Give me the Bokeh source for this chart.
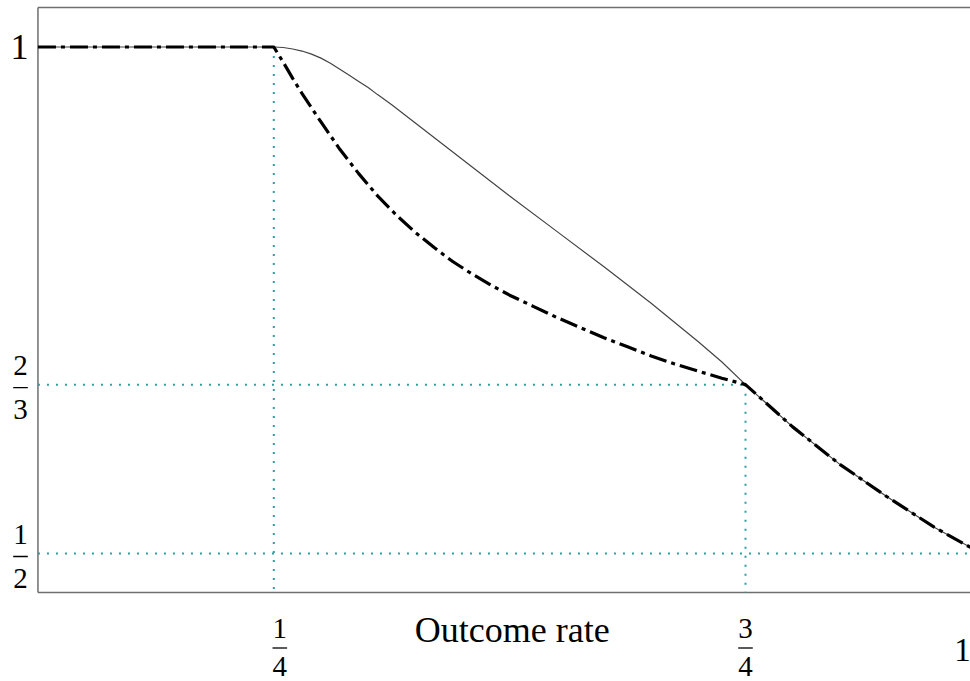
from bokeh.plotting import figure
from bokeh.models import Range1d
from bokeh.core.properties import value
from bokeh.embed import file_html
from bokeh.resources import INLINE

# ---------------- data ----------------
# solid curve (thin)
solid_x = [0.0, 0.25, 0.26, 0.27, 0.28, 0.29, 0.30, 0.31, 0.32, 0.33, 0.34, 0.35, 0.36,
           0.375, 0.40, 0.45, 0.50, 0.55, 0.60, 0.625, 0.65, 0.675, 0.70, 0.725, 0.75,
           0.80, 0.85, 0.90, 0.95, 1.0]
solid_y = [1.0, 1.0, 0.9995, 0.998, 0.996, 0.993, 0.989, 0.984, 0.978, 0.972, 0.966, 0.960, 0.953,
           0.943, 0.925, 0.889, 0.853, 0.818, 0.783, 0.765, 0.747, 0.728, 0.709, 0.689, 0.6667,
           0.625, 0.588, 0.556, 0.526, 0.5]
# dash-dot curve (thick)
dash_x = [0.0, 0.25, 0.26, 0.27, 0.28, 0.29, 0.30, 0.32, 0.34, 0.36, 0.38, 0.40, 0.42, 0.44,
          0.46, 0.48, 0.50, 0.525, 0.55, 0.575, 0.60, 0.625, 0.65, 0.675, 0.70, 0.725, 0.75,
          0.80, 0.85, 0.90, 0.95, 1.0]
dash_y = [1.0, 1.0, 0.985, 0.969, 0.954, 0.940, 0.926, 0.899, 0.875, 0.853, 0.834, 0.817, 0.802, 0.788,
          0.776, 0.765, 0.755, 0.744, 0.733, 0.723, 0.713, 0.704, 0.695, 0.687, 0.680, 0.673, 0.6667,
          0.625, 0.588, 0.556, 0.526, 0.5]
# reference (dotted) levels
ref_x = [0.25, 0.75]
ref_y = [2 / 3, 1 / 2]
# tick labels as fractions (numerator, denominator)
x_ticks = [0.25, 0.75]
x_num = ["1", "3"]
x_den = ["4", "4"]
y_ticks = [2 / 3, 1 / 2]
y_num = ["2", "1"]
y_den = ["3", "2"]
x_label = "Outcome rate"

# ---------------- layout (pixel geometry of the box) ----------------
W, H = 970, 681
BOX_TOP, BOX_BOTTOM = 7, 592
X0PX, XSC = 37.45, 943.4          # pixel of x=0 (box left), pixels per unit
Y1PX, YSC = 46.5, 1013.0          # pixel of y=1, pixels per unit


def x_of(px):
    return (px - X0PX) / XSC


def y_of(py):
    return 1 - (py - Y1PX) / YSC


p = figure(width=W, height=H, output_backend="svg", toolbar_location=None,
           x_range=Range1d(x_of(0), x_of(W)), y_range=Range1d(y_of(H), y_of(0)),
           min_border=0, x_axis_location=None, y_axis_location=None)
p.background_fill_color = "white"
p.border_fill_color = "white"
p.outline_line_color = None
p.grid.visible = False

x_left, x_right = 0.0, x_of(W + 10)
y_top, y_bot = y_of(BOX_TOP), y_of(BOX_BOTTOM)

# box (left, top, bottom)
box_col = "#6e6e6e"
p.line([x_left, x_left], [y_bot, y_top], line_color=box_col, line_width=1.5)
p.line([x_left, x_right], [y_top, y_top], line_color=box_col, line_width=1.5)
p.line([x_left, x_right], [y_bot, y_bot], line_color=box_col, line_width=1.5)

teal = "#339c9c"
# dotted reference lines
p.line([ref_x[0], ref_x[0]], [1.0, y_bot], line_color=teal, line_width=2, line_dash="2 7")
p.line([ref_x[1], ref_x[1]], [ref_y[0], y_bot], line_color=teal, line_width=2, line_dash="2 7")
p.line([x_left, ref_x[1]], [ref_y[0], ref_y[0]], line_color=teal, line_width=2, line_dash="2 7")
p.line([x_left, 1.0], [ref_y[1], ref_y[1]], line_color=teal, line_width=2, line_dash="2 7")

# curves
p.line(solid_x, solid_y, line_color="#444444", line_width=1.2, line_join="round")
p.line(dash_x, dash_y, line_color="black", line_width=3.2, line_dash="18 5 4 5",
       line_join="round")

FONT = "Liberation Serif"


def lab(pxs, pys, texts, size):
    p.text(x=[x_of(a) for a in pxs], y=[y_of(b) for b in pys], text=texts,
           text_font=value(FONT), text_font_size=f"{size}px", text_color="black",
           text_align="center", text_baseline="middle")


def bars(cxs, pys, half=7.3):
    p.segment(x0=[x_of(c - half) for c in cxs], y0=[y_of(b) for b in pys],
              x1=[x_of(c + half) for c in cxs], y1=[y_of(b) for b in pys],
              line_color="black", line_width=1.3)


# x tick fractions
xc = [X0PX + XSC * t + (6 if t < 0.5 else 0) for t in x_ticks]
lab(xc, [627.5] * len(xc), x_num, 29)
bars(xc, [647.5] * len(xc))
lab(xc, [665.5] * len(xc), x_den, 29)

# y tick fractions
yc = [Y1PX + YSC * (1 - t) + 3 for t in y_ticks]
lab([20] * len(yc), [c - 22 for c in yc], y_num, 29)
bars([20] * len(yc), yc)
lab([20] * len(yc), [c + 22 for c in yc], y_den, 29)

# y = 1 label (left) and x = 1 label (bottom right, at the edge)
lab([19], [Y1PX], ["1"], 36)
lab([962], [649], ["1"], 33)
# axis title
lab([511.7], [629], [x_label], 36)

open("out.html", "w").write(file_html(p, INLINE))
